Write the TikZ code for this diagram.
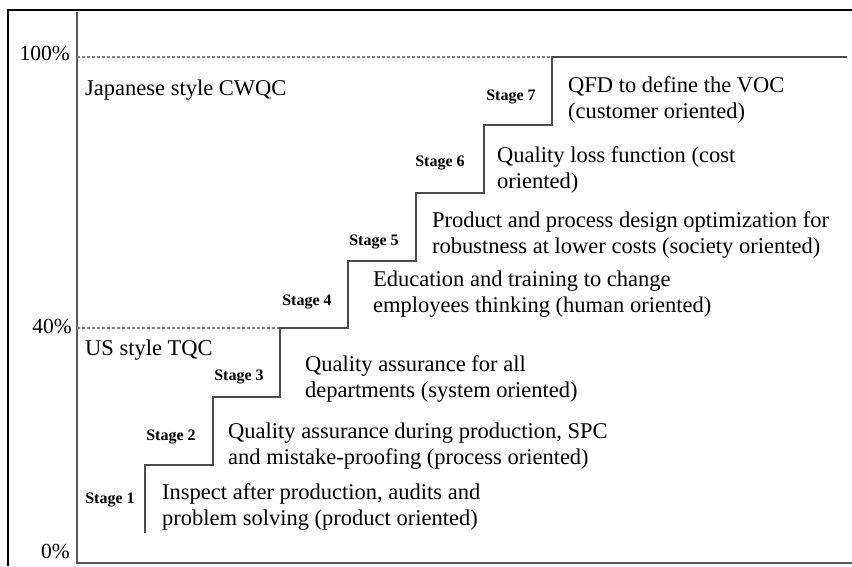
\documentclass[tikz,border=0pt]{standalone}
\usepackage{fontspec}
\setmainfont{Liberation Serif}

\tikzset{
    desc/.style={anchor=north west, inner sep=0pt, align=left, font=\fontsize{22.5}{26}\selectfont},
    stagelab/.style={inner sep=0pt, font=\bfseries\fontsize{16}{18}\selectfont},
    pct/.style={anchor=base east, inner sep=0pt, font=\fontsize{21.5}{24}\selectfont},
    region/.style={anchor=base west, inner sep=0pt, font=\fontsize{22.5}{26}\selectfont},
    guide/.style={gray, line width=1.2pt, dash pattern=on 3pt off 2pt},
    stairs/.style={black!70, line width=1.8pt},
}

\begin{document}
\begin{tikzpicture}[x=1pt, y=-1pt]
    \useasboundingbox (0, 0) rectangle (852, 566);

    \draw[black, line width=2pt] (8, 566) -- (8, 10) -- (852, 10);
    \draw[black!65, line width=1.6pt] (77, 12) -- (77, 563) -- (852, 563);

    \node[pct] (p100) at (70, 60) {100\%};
    \node[pct] (p40) at (72, 333) {40\%};
    \node[pct] (p0) at (70, 558) {0\%};

    \draw[guide] (77, 57) -- (551, 57);
    \draw[guide] (77, 328) -- (280, 328);

    \draw[stairs] (145, 533) -- (145, 465) -- (213, 465) -- (213, 397) -- (280, 397) -- (280, 328)
        -- (348, 328) -- (348, 261) -- (416, 261) -- (416, 193) -- (484, 193) -- (484, 125)
        -- (552, 125) -- (552, 57) -- (847, 57);

    \node[region] (jp) at (85, 95) {Japanese style CWQC};
    \node[region] (us) at (85, 355) {US style TQC};

    \node[stagelab] (stage1) at (110, 500) {Stage 1};
    \node[stagelab] (stage2) at (171, 437) {Stage 2};
    \node[stagelab] (stage3) at (239, 377) {Stage 3};
    \node[stagelab] (stage4) at (307, 302) {Stage 4};
    \node[stagelab] (stage5) at (374, 242) {Stage 5};
    \node[stagelab] (stage6) at (440, 163) {Stage 6};
    \node[stagelab] (stage7) at (511, 97) {Stage 7};

    \node[desc] (desc1) at (162, 483.6) {Inspect after production, audits and\\problem solving (product oriented)};
    \node[desc] (desc2) at (228, 422.6) {Quality assurance during production, SPC\\and mistake-proofing (process oriented)};
    \node[desc] (desc3) at (305, 355.6) {Quality assurance for all\\departments (system oriented)};
    \node[desc] (desc4) at (373, 270.6) {Education and training to change\\employees thinking (human oriented)};
    \node[desc] (desc5) at (432, 211.6) {Product and process design optimization for\\robustness at lower costs (society oriented)};
    \node[desc] (desc6) at (497, 146.4) {Quality loss function (cost\\oriented)};
    \node[desc] (desc7) at (568, 76.6) {QFD to define the VOC\\(customer oriented)};
\end{tikzpicture}
\end{document}
